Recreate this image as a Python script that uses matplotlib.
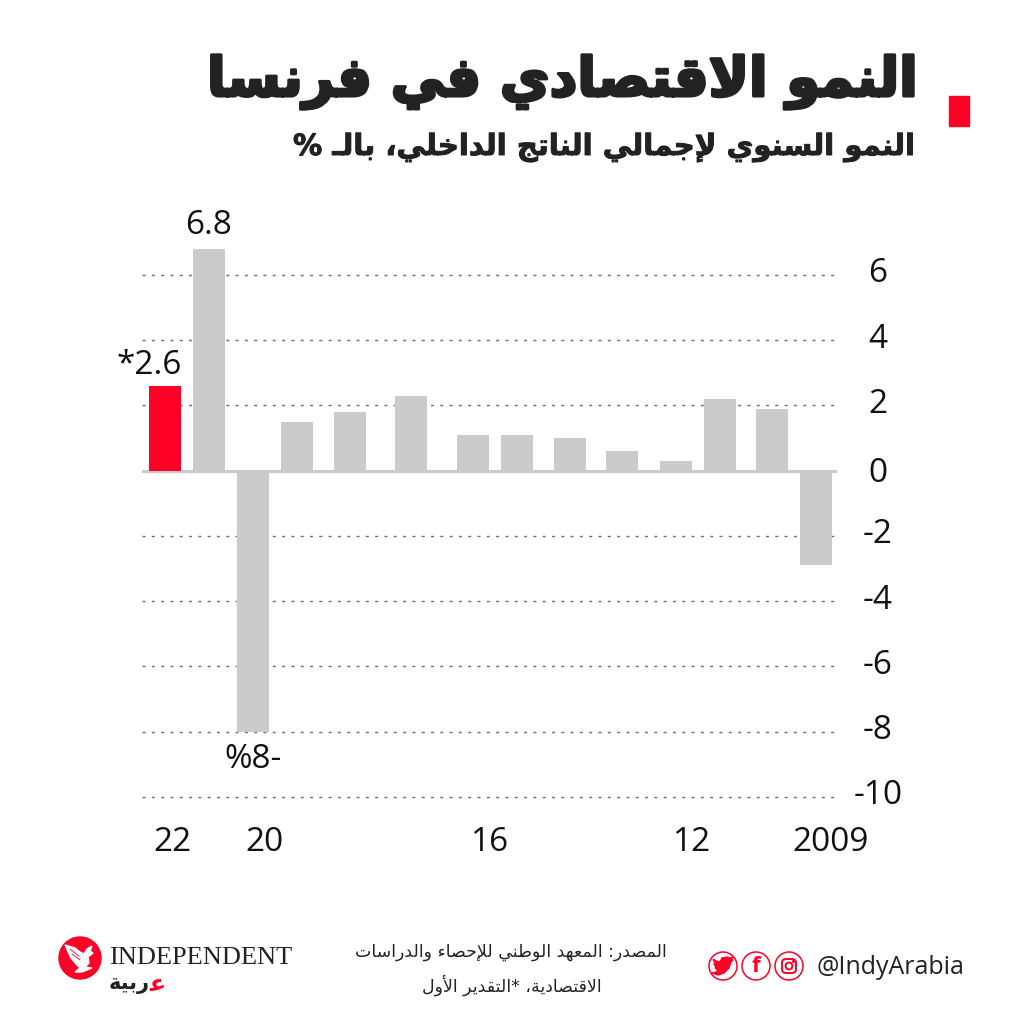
import matplotlib
matplotlib.use('Agg')
import matplotlib.pyplot as plt
from matplotlib.patches import Circle, FancyBboxPatch, Polygon, Rectangle
import matplotlib.patheffects as pe

# Chart data (newest year on the left, as in the original)
years = [2022, 2021, 2020, 2019, 2018, 2017, 2016, 2015, 2014, 2013, 2012, 2011, 2010, 2009]
growth = [2.6, 6.8, -8, 1.5, 1.8, 2.3, 1.1, 1.1, 1.0, 0.6, 0.3, 2.2, 1.9, -2.9]
bar_slots = [0, .879, 1.757, 2.636, 3.694, 4.912, 6.15, 7.03, 8.09, 9.13, 10.2, 11.08, 12.12, 13]
year_labels = ['22', '20', '16', '12', '2009']
year_label_slots = [.16, 1.98, 6.5, 10.52, 13.3]
y_ticks = [6, 4, 2, 0, -2, -4, -6, -8, -10]

title = 'النمو الاقتصادي في فرنسا'
subtitle = 'النمو السنوي لإجمالي الناتج الداخلي، بالـ %'
source_1 = 'المصدر: المعهد الوطني للإحصاء والدراسات'
source_2 = 'الاقتصادية، *التقدير الأول'

RED = '#ff0027'
GREY = '#cbcbcb'
DARK = '#222222'
LATIN = 'Open Sans'

# matplotlib does no Arabic shaping, so map letters to presentation forms by hand
DUAL = {'ب': 0xFE8F, 'ت': 0xFE95, 'ث': 0xFE99, 'ج': 0xFE9D, 'ح': 0xFEA1, 'خ': 0xFEA5, 'س': 0xFEB1,
        'ش': 0xFEB5, 'ص': 0xFEB9, 'ض': 0xFEBD, 'ط': 0xFEC1, 'ظ': 0xFEC5, 'ع': 0xFEC9, 'غ': 0xFECD,
        'ف': 0xFED1, 'ق': 0xFED5, 'ك': 0xFED9, 'ل': 0xFEDD, 'م': 0xFEE1, 'ن': 0xFEE5, 'ه': 0xFEE9,
        'ي': 0xFEF1}
RIGHT = {'آ': 0xFE81, 'أ': 0xFE83, 'ؤ': 0xFE85, 'إ': 0xFE87, 'ا': 0xFE8D, 'ة': 0xFE93, 'د': 0xFEA9,
         'ذ': 0xFEAB, 'ر': 0xFEAD, 'ز': 0xFEAF, 'و': 0xFEED, 'ى': 0xFEEF}
LAM_ALEF = {'ا': 0xFEFB, 'أ': 0xFEF7, 'إ': 0xFEF9, 'آ': 0xFEF5}


def shape(text):
    out = []
    i = 0
    prev_joins = False
    while i < len(text):
        c = text[i]
        nxt = text[i + 1] if i + 1 < len(text) else ''
        if c == 'ل' and nxt in LAM_ALEF and nxt:
            out.append(chr(LAM_ALEF[nxt] + (1 if prev_joins else 0)))
            prev_joins = False
            i += 2
            continue
        next_joins = nxt in DUAL or nxt in RIGHT or nxt == 'ـ'
        if c in DUAL:
            form = (3 if next_joins else 1) if prev_joins else (2 if next_joins else 0)
            out.append(chr(DUAL[c] + form))
            prev_joins = next_joins
        elif c in RIGHT:
            out.append(chr(RIGHT[c] + (1 if prev_joins else 0)))
            prev_joins = False
        elif c == 'ـ':
            out.append(c)
            prev_joins = True
        else:
            out.append(c)
            prev_joins = False
        i += 1
    return ''.join(reversed(out))


fig = plt.figure(figsize=(10.24, 10.24), dpi=100, facecolor='white')

# overlay in pixel coordinates for header, footer and logos
bg = fig.add_axes([0, 0, 1, 1])
bg.set_xlim(0, 1024)
bg.set_ylim(1024, 0)
bg.axis('off')

ax = fig.add_axes([142 / 1024, 224 / 1024, 696 / 1024, 560 / 1024])
ax.patch.set_alpha(0)
ax.set_xlim(-.459, 13.44)
ax.set_ylim(-10.1, 7.07)
for s in ax.spines.values():
    s.set_visible(False)

colors = [RED] + [GREY] * (len(years) - 1)
ax.bar(bar_slots, growth, width=.639, color=colors, zorder=3)
ax.set_yticks(y_ticks)
ax.set_yticklabels([])
ax.grid(axis='y', color='#707070', linewidth=1, linestyle=(0, (2.2, 4.5)), zorder=1)
ax.axhline(0, xmin=0, xmax=.995, color=GREY, linewidth=2.2, zorder=2)
ax.set_xticks(year_label_slots)
ax.set_xticklabels(year_labels, fontsize=24, family=LATIN, color='#111111')
ax.tick_params(axis='both', length=0)
ax.tick_params(axis='x', pad=19)

for v in y_ticks:
    dy = -3 if v == 0 else 1
    ax.annotate(str(v), (1, v), xycoords=ax.get_yaxis_transform(), xytext=(40, dy),
                textcoords='offset pixels', ha='center', va='center', fontsize=24,
                family=LATIN, color='#111111')

ax.text(bar_slots[1], growth[1] + .72, '6.8', ha='center', va='center', fontsize=24, family=LATIN, color='#111111')
ax.text(bar_slots[0] - .31, growth[0] + .62, '*2.6', ha='center', va='center', fontsize=24, family=LATIN, color='#111111')
ax.text(bar_slots[2], growth[2] - .85, '%8-', ha='center', va='center', fontsize=24, family=LATIN, color='#111111')

# header
bg.add_patch(Rectangle((949, 96), 20, 30, color=RED))
bg.text(917, 96, shape(title), ha='right', va='baseline', fontsize=39, family='DejaVu Sans', weight='bold',
        color=DARK, path_effects=[pe.withStroke(linewidth=2.2, foreground=DARK)])
bg.text(915, 155, shape(subtitle), ha='right', va='baseline', fontsize=21, family='DejaVu Sans', weight='bold',
        color=DARK, path_effects=[pe.withStroke(linewidth=.7, foreground=DARK)])

# footer text
bg.text(667, 952, shape(source_1), ha='right', va='center', fontsize=12.5, family='DejaVu Sans', color=DARK)
bg.text(602, 985, shape(source_2), ha='right', va='center', fontsize=12.5, family='DejaVu Sans', color=DARK)
bg.text(964, 967, '@IndyArabia', ha='right', va='center', fontsize=18, family=LATIN, color=DARK)

# social icons
for cx in [723, 756, 789]:
    bg.add_patch(Circle((cx, 966), 14, fill=False, edgecolor=RED, linewidth=1.1))
bg.add_patch(Polygon([(713, 959), (716, 961), (720, 962), (722, 958), (727, 957), (730, 958), (733, 957),
                      (731, 960), (733, 960), (731, 962), (729, 968), (724, 973), (718, 975), (712, 973),
                      (716, 972), (718, 970), (715, 968), (716, 967), (714, 964), (715, 963)], color=RED))
bg.text(756, 966, 'f', ha='center', va='center', fontsize=16, family=LATIN, weight='bold', color=RED)
bg.add_patch(FancyBboxPatch((782, 959), 14, 14, boxstyle='round,pad=0,rounding_size=4', fill=False,
                            edgecolor=RED, linewidth=1.4))
bg.add_patch(Circle((789, 966), 3.4, fill=False, edgecolor=RED, linewidth=1.4))
bg.add_patch(Circle((793.5, 961.5), .9, color=RED))

# logo
bg.add_patch(Circle((80, 958), 21, color=RED))
bg.add_patch(Polygon([(65, 945), (75, 948), (80, 952), (84, 954), (87, 949), (92, 946), (90, 951), (93, 953),
                      (88, 957), (89, 963), (85, 967), (92, 968), (82, 972), (75, 972), (80, 968), (76, 964),
                      (71, 958)], color='white'))
bg.plot([70, 79], [949, 956], color=RED, linewidth=.6)
bg.plot([72, 80], [954, 960], color=RED, linewidth=.6)
bg.set_xlim(0, 1024)
bg.set_ylim(1024, 0)
bg.text(109, 958, 'INDEPENDENT', ha='left', va='center', fontsize=19, family='Liberation Serif', color='#222222')
bg.text(150, 984, shape('ربية'), ha='right', va='center', fontsize=15, family='DejaVu Sans', weight='bold',
        color='#222222')
bg.text(149, 984, chr(DUAL['ع'] + 2), ha='left', va='center', fontsize=17, family='DejaVu Sans', weight='bold',
        color=RED)

fig.savefig('out.png', dpi=100)
